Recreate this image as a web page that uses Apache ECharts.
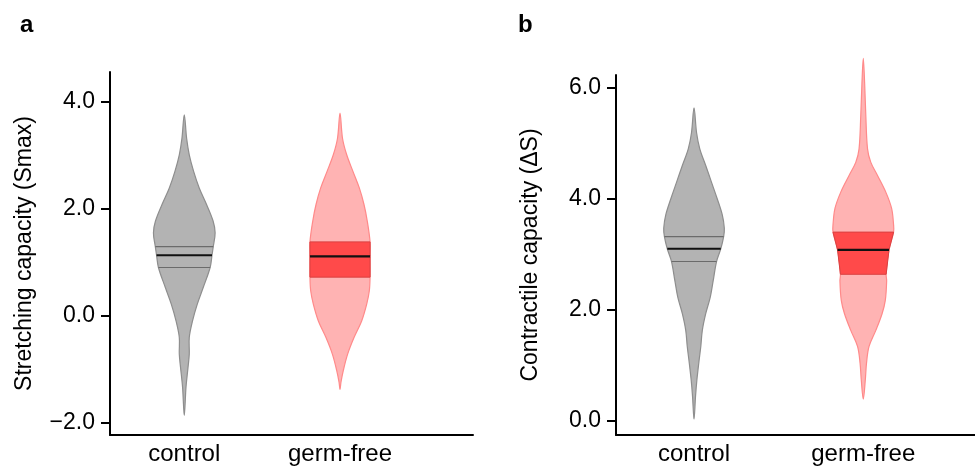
<!DOCTYPE html>
<html>
<head>
<meta charset="utf-8">
<script src="https://cdn.jsdelivr.net/npm/echarts@6/dist/echarts.min.js"></script>
<style>
  html, body { margin: 0; padding: 0; background: #ffffff; }
  #main { width: 975px; height: 466px; }
</style>
</head>
<body>
<div id="main"></div>
<script>
// groups on the x axis
const categories = ['control', 'germ-free']
const stretchTicks = [-2, 0, 2, 4]
const contractTicks = [0, 2, 4, 6]

// violin outlines: [value, half width in x-axis units], top to bottom
const stretchControl = [
  [3.76, 0], [3.32, 0.015], [3.01, 0.032], [2.70, 0.060], [2.39, 0.096], [2.08, 0.143],
  [1.77, 0.185], [1.55, 0.198], [1.29, 0.186], [1.13, 0.178], [0.90, 0.166], [0.52, 0.121],
  [0.21, 0.083], [-0.10, 0.053], [-0.41, 0.032], [-0.72, 0.032], [-0.97, 0.024], [-1.34, 0.011],
  [-1.87, 0]
]
const stretchGermFree = [
  [3.79, 0], [3.32, 0.016], [3.01, 0.043], [2.70, 0.083], [2.39, 0.124], [2.08, 0.154],
  [1.77, 0.175], [1.38, 0.193], [1.11, 0.193], [0.72, 0.193], [0.46, 0.188], [0.21, 0.171],
  [-0.10, 0.139], [-0.41, 0.090], [-0.72, 0.049], [-1.03, 0.021], [-1.25, 0.006], [-1.38, 0]
]
const contractControl = [
  [5.64, 0], [5.19, 0.015], [4.90, 0.034], [4.60, 0.069], [4.30, 0.103], [4.01, 0.136],
  [3.71, 0.167], [3.47, 0.179], [3.32, 0.175], [3.10, 0.158], [2.87, 0.133], [2.52, 0.113],
  [2.23, 0.096], [1.93, 0.069], [1.63, 0.049], [1.34, 0.040], [1.04, 0.028], [0.74, 0.017],
  [0.45, 0.009], [0.03, 0]
]
const contractGermFree = [
  [6.53, 0], [6.08, 0.008], [5.49, 0.015], [4.90, 0.025], [4.66, 0.044], [4.42, 0.084],
  [4.12, 0.133], [3.83, 0.167], [3.53, 0.179], [3.40, 0.179], [3.08, 0.152], [2.64, 0.135],
  [2.52, 0.138], [2.17, 0.130], [1.93, 0.111], [1.63, 0.074], [1.34, 0.034], [1.04, 0.019],
  [0.74, 0.012], [0.39, 0]
]

// lower quartile, median, upper quartile
const stretchControlQ = [0.90, 1.13, 1.29]
const stretchGermFreeQ = [0.72, 1.11, 1.38]
const contractControlQ = [2.87, 3.10, 3.32]
const contractGermFreeQ = [2.64, 3.08, 3.40]

const FONT = 'Liberation Sans, Arial, sans-serif'

const greyStyle = { fill: '#b3b3b3', stroke: '#8e8e8e', band: null, qLine: '#6b6b6b' }
const redStyle = { fill: '#ffb3b3', stroke: '#ff8a8a', band: '#ff4a4a', qLine: '#d94040' }

// half width of a profile at value v (linear between read points)
function halfAt(profile, v) {
  for (let i = 0; i < profile.length - 1; i++) {
    const [v0, w0] = profile[i]
    const [v1, w1] = profile[i + 1]
    if (v <= v0 && v >= v1) {
      return w0 + (w1 - w0) * (v0 - v) / (v0 - v1)
    }
  }
  return 0
}

function outline(api, x, pts) {
  const right = pts.map(([v, w]) => api.coord([x + w, v]))
  const left = pts.slice().reverse()
    .filter(([v, w], i, arr) => !(w === 0 && (i === 0 || i === arr.length - 1)))
    .map(([v, w]) => api.coord([x - w, v]))
  return right.concat(left)
}

function violin(axis, x, profile, q, st) {
  return {
    type: 'custom',
    xAxisIndex: axis,
    yAxisIndex: axis,
    data: [[x]],
    silent: true,
    renderItem(params, api) {
      const children = []
      children.push({
        type: 'polygon',
        shape: { points: outline(api, x, profile), smooth: 0.35 },
        style: { fill: st.fill, stroke: st.stroke, lineWidth: 1.2 }
      })
      if (st.band) {
        const inner = [[q[2], halfAt(profile, q[2])]]
          .concat(profile.filter(([v]) => v < q[2] && v > q[0]))
          .concat([[q[0], halfAt(profile, q[0])]])
        children.push({
          type: 'polygon',
          shape: { points: outline(api, x, inner) },
          style: { fill: st.band, stroke: st.qLine, lineWidth: 1 }
        })
      }
      const line = (v, color, width) => {
        const h = halfAt(profile, v)
        const a = api.coord([x - h, v])
        const b = api.coord([x + h, v])
        children.push({
          type: 'line',
          shape: { x1: a[0], y1: a[1], x2: b[0], y2: b[1] },
          style: { stroke: color, lineWidth: width }
        })
      }
      if (!st.band) {
        line(q[0], st.qLine, 1.2)
        line(q[2], st.qLine, 1.2)
      }
      line(q[1], '#111111', 2.2)
      return { type: 'group', children }
    }
  }
}

function xAxis(grid, min, max) {
  return {
    type: 'value',
    gridIndex: grid,
    min: min,
    max: max,
    splitLine: { show: false },
    axisTick: { show: false },
    axisLine: { show: true, onZero: false, lineStyle: { color: '#000', width: 2 } },
    axisLabel: {
      customValues: [1, 2],
      formatter: (v) => categories[Math.round(v) - 1],
      color: '#000',
      fontSize: 24,
      fontFamily: FONT,
      margin: 7
    }
  }
}

function yAxis(grid, min, max, ticks, name) {
  return {
    type: 'value',
    gridIndex: grid,
    min: min,
    max: max,
    name: name,
    nameLocation: 'middle',
    nameRotate: 90,
    nameGap: 74,
    nameTextStyle: { color: '#000', fontSize: 23, fontFamily: FONT },
    splitLine: { show: false },
    axisLine: { show: true, onZero: false, lineStyle: { color: '#000', width: 2 } },
    axisTick: { show: true, customValues: ticks, length: 9, lineStyle: { color: '#000', width: 2 } },
    axisLabel: {
      customValues: ticks,
      formatter: (v) => (v < 0 ? '\u2212' : '') + Math.abs(v).toFixed(1),
      color: '#000',
      fontSize: 23,
      fontFamily: FONT,
      margin: 15
    }
  }
}

const chart = echarts.init(document.getElementById('main'), null, { renderer: 'canvas' })
chart.setOption({
  backgroundColor: '#ffffff',
  animation: false,
  title: [
    { text: 'a', left: 15, top: 8, textStyle: { fontSize: 24, fontWeight: 'bold', color: '#000', fontFamily: FONT } },
    { text: 'b', left: 513, top: 8, textStyle: { fontSize: 24, fontWeight: 'bold', color: '#000', fontFamily: FONT } }
  ],
  grid: [
    { left: 110, top: 72, width: 363, height: 364 },
    { left: 616, top: 75, width: 359, height: 364 }
  ],
  xAxis: [xAxis(0, 0.523, 2.854), xAxis(1, 0.539, 2.66)],
  yAxis: [
    yAxis(0, -2.235, 4.56, stretchTicks, 'Stretching capacity (Smax)'),
    yAxis(1, -0.255, 6.23, contractTicks, 'Contractile capacity (\u0394S)')
  ],
  series: [
    violin(0, 1, stretchControl, stretchControlQ, greyStyle),
    violin(0, 2, stretchGermFree, stretchGermFreeQ, redStyle),
    violin(1, 1, contractControl, contractControlQ, greyStyle),
    violin(1, 2, contractGermFree, contractGermFreeQ, redStyle)
  ]
})
</script>
</body>
</html>
